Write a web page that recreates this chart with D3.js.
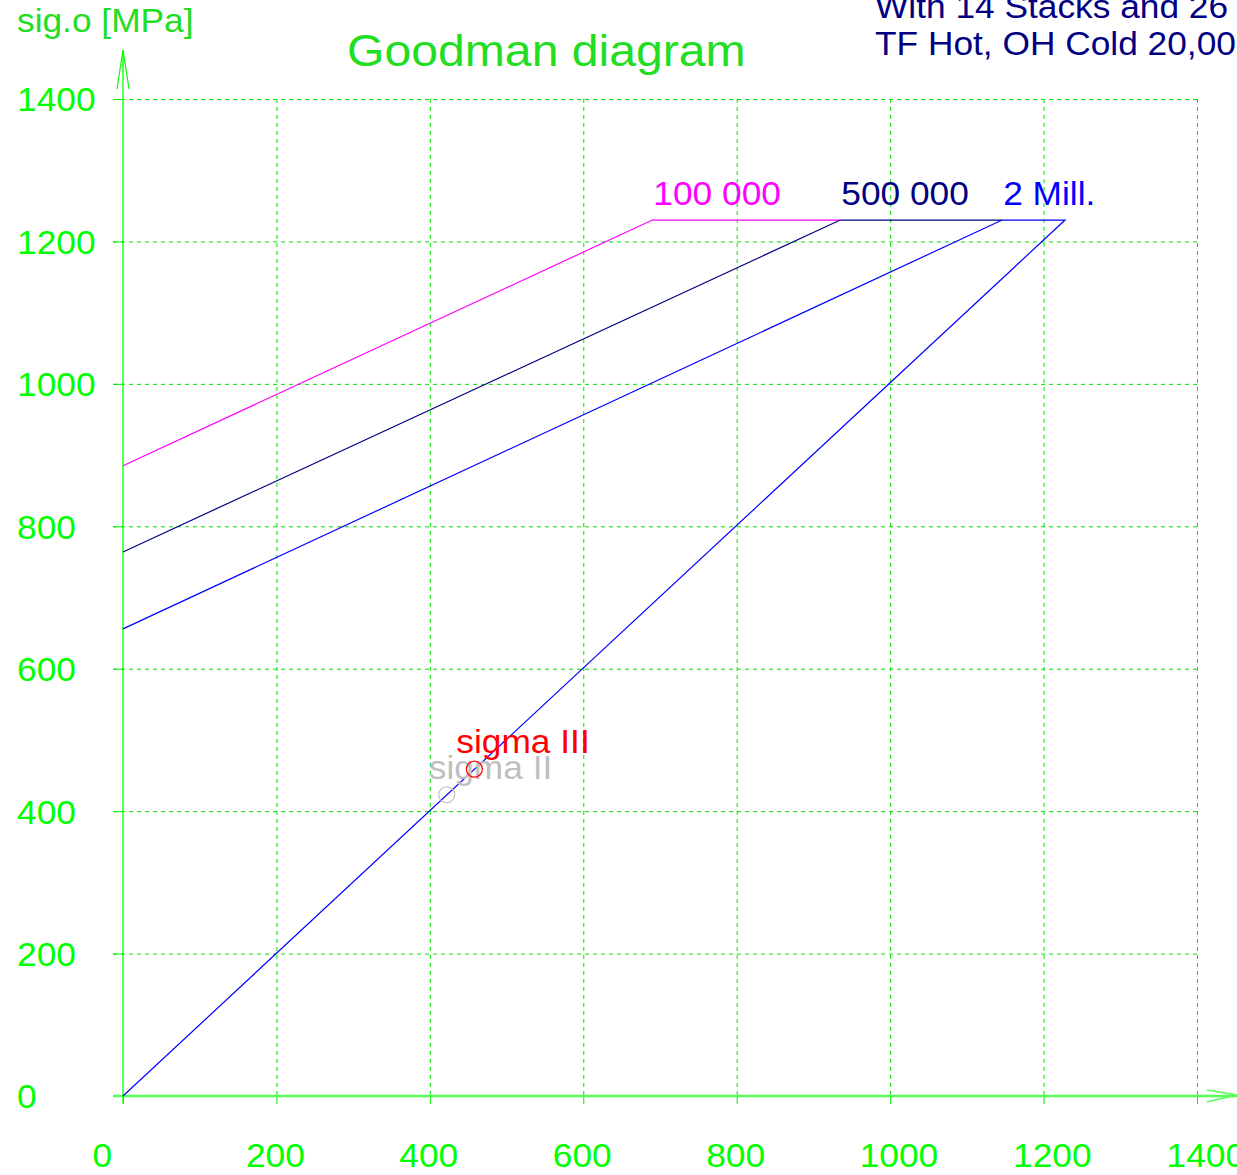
<!DOCTYPE html>
<html><head><meta charset="utf-8">
<script src="https://cdn.jsdelivr.net/npm/d3@7"></script>
<style>
html,body{margin:0;padding:0;background:#fff;overflow:hidden}
svg{display:block;font-family:Arial,"Liberation Sans",sans-serif}
</style></head><body>
<svg id="c" width="1237" height="1175"></svg>
<script>
const xTicks = [0,200,400,600,800,1000,1200,1400];
const yTicks = [0,200,400,600,800,1000,1200,1400];
const curveNames = ["100 000","500 000","2 Mill."];
const curveColors = ["#ff00ff","#000080","#0000ff"];
const curve100k = [[0,885],[690,1230],[935,1230]];
const curve500k = [[0,764],[935,1230],[1146,1230]];
const curve2M = [[0,656],[1146,1230],[1228,1230],[0,0]];
const curves = [curve100k, curve500k, curve2M];
const sigmaNames = ["sigma II","sigma III"];
const sigmaColors = ["#c0c0c0","#ff0000"];
const sigmaX = [422, 458];
const sigmaY = [423, 459];
const titleText = "Goodman diagram";
const yLabel = "sig.o [MPa]";
const infoLines = ["With 14 Stacks and 26","TF Hot, OH Cold 20,00"];

const SX = 1.07; // horizontal stretch of the reference's text
const svg = d3.select("#c");
const x = d3.scaleLinear().domain([0,1400]).range([123,1197]);
const y = d3.scaleLinear().domain([0,1400]).range([1096,99]);
const G = "#00ff00";

function stretchedText(parent, tx, ty, txt, size, fill){
  return parent.append("text").attr("transform",`translate(${tx},${ty}) scale(${SX},1)`)
    .attr("fill",fill).attr("font-size",size).text(txt);
}

// grid
const grid = svg.append("g");
grid.selectAll("line.gx").data(xTicks.filter(d=>d>0)).join("line")
  .attr("x1",d=>x(d)+0.5).attr("x2",d=>x(d)+0.5).attr("y1",y(1400)).attr("y2",y(0))
  .attr("stroke","#00e000").attr("stroke-width",1).attr("stroke-dasharray","4,4");
grid.selectAll("line.gy").data(yTicks.filter(d=>d>0)).join("line")
  .attr("y1",d=>y(d)+0.5).attr("y2",d=>y(d)+0.5).attr("x1",x(0)-10).attr("x2",x(1400))
  .attr("stroke","#00e000").attr("stroke-width",1).attr("stroke-dasharray","4,4");

// axes with d3
const xAxis = d3.axisBottom(x).tickValues(xTicks).tickSize(8).tickFormat(d=>d);
const gx = svg.append("g").attr("transform",`translate(0,${y(0)})`).call(xAxis);
gx.select(".domain").remove();
gx.selectAll(".tick line").attr("stroke","#00ee00");
gx.selectAll(".tick text").attr("fill",G).attr("font-size",33)
  .attr("font-family","Arial,'Liberation Sans',sans-serif")
  .attr("text-anchor","start").attr("x",0).attr("y",0).attr("dy",0)
  .attr("transform",`translate(-31,71) scale(${SX},1)`);

const yAxis = d3.axisLeft(y).tickValues(yTicks).tickSize(10).tickFormat(d=>d);
const gy = svg.append("g").attr("transform",`translate(${x(0)},0)`).call(yAxis);
gy.select(".domain").remove();
gy.selectAll(".tick line").attr("stroke","#00ee00");
gy.selectAll(".tick text").attr("fill",G).attr("font-size",33)
  .attr("font-family","Arial,'Liberation Sans',sans-serif")
  .attr("text-anchor","start").attr("x",0).attr("dy","0.36em")
  .attr("transform",`translate(${17-123},0) scale(${SX},1)`);

// axis lines
svg.append("line").attr("x1",113).attr("x2",1237).attr("y1",y(0)).attr("y2",y(0))
  .attr("stroke","#55ff55").attr("stroke-width",2.5);
svg.append("line").attr("x1",x(0)).attr("x2",x(0)).attr("y1",y(0)+8).attr("y2",50)
  .attr("stroke",G).attr("stroke-width",1.3);
svg.append("path").attr("d",`M${x(0)-6},89L${x(0)},50L${x(0)+6},89`)
  .attr("fill","none").attr("stroke",G).attr("stroke-width",1.2);
svg.append("path").attr("d",`M1207,1090L1237,1095L1207,1102`)
  .attr("fill","none").attr("stroke","#55ff55").attr("stroke-width",1.5);

// curves
const line = d3.line().x(d=>x(d[0])).y(d=>y(d[1]));
svg.append("g").selectAll("path").data(curves).join("path")
  .attr("d",line).attr("fill","none")
  .attr("stroke",(d,i)=>curveColors[i]).attr("stroke-width",1.2);

// curve labels
const cl = svg.append("g");
curves.forEach((c,i)=>stretchedText(cl, x(c[1][0])+1, 205, curveNames[i], 33, curveColors[i]));

// sigma points
const sg = svg.append("g");
sigmaNames.forEach((n,i)=>stretchedText(sg, x(sigmaX[i])-18, y(sigmaY[i])-16, n, 33, sigmaColors[i]));
sg.selectAll("circle").data(sigmaNames).join("circle")
  .attr("cx",(d,i)=>x(sigmaX[i])).attr("cy",(d,i)=>y(sigmaY[i])).attr("r",8)
  .attr("fill","none").attr("stroke",(d,i)=>sigmaColors[i]).attr("stroke-width",1.2);

// titles
stretchedText(svg, 347, 66, titleText, 45, "#22dd22");
stretchedText(svg, 17, 32, yLabel, 33, "#22dd22");
infoLines.forEach((t,i)=>stretchedText(svg, 875, 18+i*37, t, 33, "#000080"));
</script></body></html>
